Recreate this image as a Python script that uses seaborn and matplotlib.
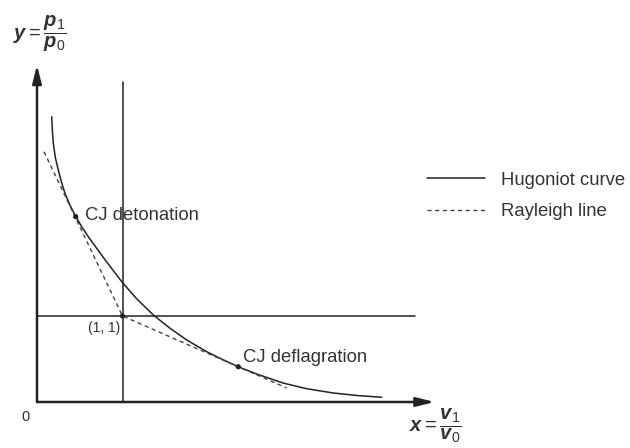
import matplotlib
matplotlib.use("Agg")
import matplotlib.pyplot as plt
import seaborn as sns
import pandas as pd

# Hugoniot curve (x = v1/v0, y = p1/p0)
hug_x = [0.172, 0.180, 0.191, 0.215, 0.249, 0.285, 0.327, 0.385, 0.453, 0.525,
         0.600, 0.700, 0.795, 0.900, 0.998, 1.166, 1.360, 1.556, 1.751, 1.985,
         2.140, 2.354, 2.570, 2.877, 3.150, 3.462, 3.750, 4.032]
hug_y = [3.317, 3.150, 3.008, 2.840, 2.698, 2.560, 2.427, 2.290, 2.155, 2.035,
         1.922, 1.785, 1.655, 1.518, 1.390, 1.200, 1.012, 0.857, 0.721, 0.585,
         0.508, 0.410, 0.325, 0.221, 0.155, 0.105, 0.075, 0.055]

# Rayleigh lines through the initial state (1, 1)
ray_x = [0.082, 1.0, 2.92]
ray_y = [2.91, 1.0, 0.163]

# marked states
pt_x = [0.453, 1.0, 2.354]
pt_y = [2.155, 1.0, 0.410]
pt_names = ["CJ detonation", "(1, 1)", "CJ deflagration"]

# reference lines x = 1 and y = 1, and the axis lengths
vline_top = 3.72
hline_end = 4.42
xaxis_end = 4.65
yaxis_end = 3.92

sns.set_theme(style="white")
plt.rcParams['font.family'] = ['Liberation Sans', 'DejaVu Sans']
plt.rcParams['mathtext.fontset'] = 'custom'
plt.rcParams['mathtext.rm'] = 'Liberation Sans'
plt.rcParams['mathtext.it'] = 'Liberation Sans:italic:bold'
plt.rcParams['mathtext.bf'] = 'Liberation Sans:bold'

ink = '#222222'
txt = '#333333'
fs = 13.3

fig, ax = plt.subplots(figsize=(6.3, 4.48), dpi=100)
fig.subplots_adjust(left=0, right=1, bottom=0, top=1)
ax.set_xlim(-37 / 85.5, 593 / 85.5)
ax.set_ylim(-46 / 86, 402 / 86)
ax.axis('off')

# axes with arrows
arrow = dict(arrowstyle='-|>,head_length=0.6,head_width=0.15', lw=1.8,
             color=ink, mutation_scale=18, shrinkA=0, shrinkB=0)
ax.annotate('', xy=(xaxis_end, 0), xytext=(0, 0), arrowprops=arrow)
ax.annotate('', xy=(0, yaxis_end), xytext=(0, 0), arrowprops=arrow)

# x = 1 and y = 1
ax.plot([1, 1], [0, vline_top], color=ink, lw=1.1)
ax.plot([0, hline_end], [1, 1], color=ink, lw=1.1)

hug = pd.DataFrame({'x': hug_x, 'y': hug_y})
ray = pd.DataFrame({'x': ray_x, 'y': ray_y})
sns.lineplot(data=hug, x='x', y='y', sort=False, color=ink, lw=1.1,
             solid_joinstyle='round', ax=ax, label='Hugoniot curve')
sns.lineplot(data=ray, x='x', y='y', sort=False, color='#444444', lw=1.0,
             linestyle=(0, (3, 2.5)), ax=ax, label='Rayleigh line')
sns.scatterplot(x=pt_x, y=pt_y, color=ink, s=14, edgecolor='none', ax=ax,
                zorder=5)

ax.text(0.561, 2.174, pt_names[0], fontsize=fs, color=txt, ha='left', va='center')
ax.text(0.971, 0.86, pt_names[1], fontsize=10, color=txt, ha='right', va='center')
ax.text(2.409, 0.512, pt_names[2], fontsize=fs, color=txt, ha='left', va='center')
ax.text(-0.14, -0.174, '0', fontsize=10.5, color=txt, ha='center', va='center')

ax.text(-0.281, 4.28, r'$y=\dfrac{p_1}{p_0}$', fontsize=14.5, color=txt,
        ha='left', va='center')
ax.text(4.35, -0.279, r'$x=\dfrac{v_1}{v_0}$', fontsize=14.5, color=txt,
        ha='left', va='center')

leg = ax.legend(loc='center left', bbox_to_anchor=(427 / 630, 1 - 196 / 448),
                bbox_transform=fig.transFigure, frameon=False, fontsize=fs,
                handlelength=3.15, handletextpad=0.85, labelspacing=0.8,
                borderpad=0, borderaxespad=0)
for t in leg.get_texts():
    t.set_color(txt)

plt.savefig('out.png', dpi=100)
